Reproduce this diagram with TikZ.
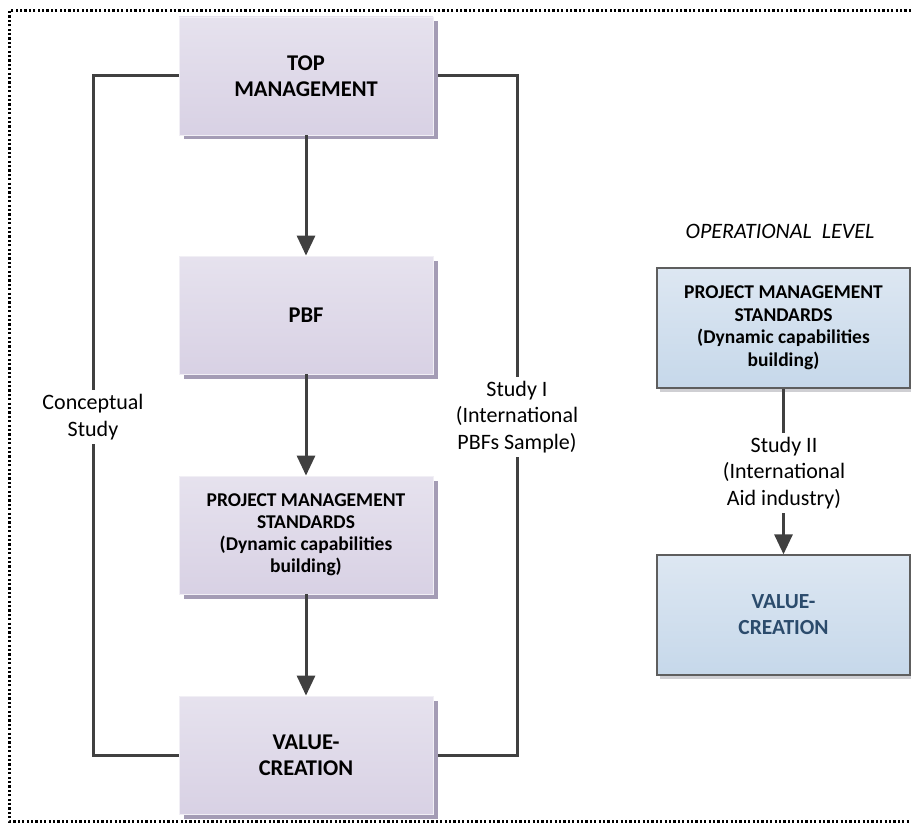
\documentclass[tikz,border=0pt]{standalone}
\usepackage{fontspec}
\setmainfont{Carlito}
\usetikzlibrary{arrows.meta,shadows,backgrounds}

\definecolor{pTop}{HTML}{E6E2EE}
\definecolor{pBot}{HTML}{D8D1E4}
\definecolor{pEdge}{HTML}{F1EFF5}
\definecolor{pShadow}{HTML}{A49CB5}
\definecolor{bTop}{HTML}{DDE7F2}
\definecolor{bBot}{HTML}{C6D8EA}
\definecolor{bEdge}{HTML}{5E5E5E}
\definecolor{bShadow}{HTML}{CFCFD3}
\definecolor{lineC}{HTML}{404040}
\definecolor{valC}{HTML}{2B4B6C}

\begin{document}
\begin{tikzpicture}[x=1pt,y=-1pt,
  pbox/.style={minimum width=254pt, minimum height=118pt, inner sep=0pt,
    top color=pTop, bottom color=pBot, draw=pEdge, line width=0.8pt,
    drop shadow={shadow xshift=4.5pt, shadow yshift=-4.5pt, fill=pShadow, opacity=1, draw=none},
    align=center, font=\bfseries\fontsize{22.5}{26}\selectfont},
  psmall/.style={font=\bfseries\fontsize{19.5}{22}\selectfont},
  bbox/.style={minimum width=253pt, minimum height=120pt, inner sep=0pt,
    top color=bTop, bottom color=bBot, draw=bEdge, line width=1.3pt,
    drop shadow={shadow xshift=3pt, shadow yshift=-3.5pt, fill=bShadow, opacity=1, draw=none},
    align=center, font=\bfseries\fontsize{19.5}{22.5}\selectfont},
  conn/.style={draw=lineC, line width=3pt},
  arr/.style={conn, -{Triangle[width=18pt,length=20pt]}},
  lbl/.style={fill=white, align=center, inner xsep=2pt, inner ysep=4.5pt,
    font=\fontsize{22}{26.5}\selectfont},
  frame/.style={line width=3pt, dash pattern=on 2.2pt off 2.2pt}
]
\useasboundingbox (0,0) rectangle (911,824);

% dotted outer frame (right side runs past the page edge)
\draw[frame] (911,10.5) -- (9.5,10.5) -- (9.5,821) -- (911,821);

% column positions of the two study brackets
\coordinate (lx) at (93,0);
\coordinate (rx) at (517,0);

% left hierarchy
\node[pbox] (top) at (306,76) {TOP\\MANAGEMENT};
\node[pbox] (pbf) at (306,315) {PBF};
\node[pbox, psmall] (pms) at (306,535) {PROJECT MANAGEMENT\\STANDARDS\\(Dynamic capabilities\\building)};
\node[pbox] (val) at (306,755) {VALUE-\\CREATION};

% study brackets behind the boxes
\begin{scope}[on background layer]
\draw[conn] (top.west) -| (lx |- val.west) -- (val.west);
\draw[conn] (top.east) -| (rx |- val.east) -- (val.east);
\node[lbl] (cs) at (93,417) {Conceptual\\Study};
\node[lbl] (s1) at (517,417) {Study I\\(International\\PBFs Sample)};
\end{scope}

\draw[arr] (top.south) -- (pbf.north);
\draw[arr] (pbf.south) -- (pms.north);
\draw[arr] (pms.south) -- (val.north);

% operational level
\node[font=\itshape\fontsize{22}{24}\selectfont, anchor=base] (ol) at (780,238) {OPERATIONAL\ \ LEVEL};
\node[bbox] (opms) at (783.5,328) {PROJECT MANAGEMENT\\STANDARDS\\(Dynamic capabilities\\building)};
\node[bbox, text=valC, font=\bfseries\fontsize{21.5}{26}\selectfont] (oval) at (783.5,615) {VALUE-\\CREATION};
\draw[arr] (opms.south) -- (oval.north);
\node[lbl] (s2) at (784,473) {Study II\\(International\\Aid industry)};
\end{tikzpicture}
\end{document}
